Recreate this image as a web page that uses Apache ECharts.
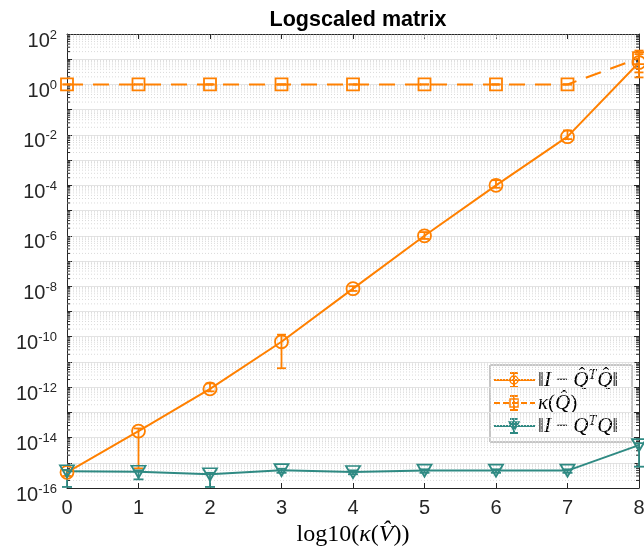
<!DOCTYPE html>
<html>
<head>
<meta charset="utf-8">
<script src="https://cdn.jsdelivr.net/npm/echarts@6/dist/echarts.min.js"></script>
<style>
  html, body { margin: 0; padding: 0; background: #fff; }
  #chart { width: 644px; height: 549px; }
</style>
</head>
<body>
<div id="chart"></div>
<script>
// x positions: log10 of the condition number of V-hat
const xValues = [0, 1, 2, 3, 4, 5, 6, 7, 8];

// ||I - Qhat^T Qhat||: median with lower / upper bounds
const orthHat    = [4.2e-16, 1.8e-14, 8.5e-13, 6.3e-11, 8.0e-9, 1.0e-6, 1.0e-4, 8.5e-3, 7.4];
const orthHatLo  = [3.0e-16, 6.0e-16, 6.8e-13, 5.6e-12, 6.5e-9, 7.5e-7, 8.0e-5, 6.8e-3, 1.9];
const orthHatHi  = [5.0e-16, 2.3e-14, 1.4e-12, 1.2e-10, 1.0e-8, 1.4e-6, 1.6e-4, 1.5e-2, 16];

// kappa(Qhat)
const kappaHat   = [1, 1, 1, 1, 1, 1, 1, 1, 11];
const kappaHatLo = [1, 1, 1, 1, 1, 1, 1, 1, 3];
const kappaHatHi = [1, 1, 1, 1, 1, 1, 1, 1, 22];

// ||I - Q^T Q||
const orthQ      = [4.6e-16, 4.4e-16, 3.5e-16, 5.1e-16, 4.3e-16, 4.9e-16, 4.9e-16, 4.9e-16, 5.0e-15];
const orthQLo    = [1.1e-16, 2.2e-16, 1.1e-16, 4.0e-16, 3.5e-16, 4.0e-16, 4.0e-16, 4.0e-16, 7.0e-16];
const orthQHi    = [5.2e-16, 5.0e-16, 4.0e-16, 5.8e-16, 5.0e-16, 5.5e-16, 5.5e-16, 5.5e-16, 6.0e-15];

// y-axis range in decades
const yMinExp = -16;
const yMaxExp = 2;

const ORANGE = '#ff8000';
const TEAL = '#2f8a83';
const AXIS = '#262626';

const pairs = (ys) => xValues.map((x, i) => [x, ys[i]]);
const bars = (lo, hi) => xValues.map((x, i) => [x, lo[i], hi[i]]);

// minor log grid values 2..9 x 10^k
const minorValues = [];
for (let e = yMinExp; e < yMaxExp; e++) {
  for (let m = 2; m <= 9; m++) minorValues.push([0, m * Math.pow(10, e)]);
}

function minorGrid(params, api) {
  const v = api.value(1);
  const a = api.coord([0, v]);
  const b = api.coord([8, v]);
  return {
    type: 'group',
    children: [
      { type: 'line', shape: { x1: a[0], y1: a[1], x2: b[0], y2: b[1] },
        style: { stroke: '#dadada', lineWidth: 1, lineDash: [1, 2] } },
      { type: 'line', shape: { x1: a[0], y1: a[1], x2: a[0] + 3, y2: a[1] },
        style: { stroke: AXIS, lineWidth: 1, lineDash: null } },
      { type: 'line', shape: { x1: b[0] - 3, y1: b[1], x2: b[0], y2: b[1] },
        style: { stroke: AXIS, lineWidth: 1, lineDash: null } }
    ]
  };
}

function errorBar(color, capHalf) {
  return function (params, api) {
    const x = api.value(0);
    const lo = api.coord([x, api.value(1)]);
    const hi = api.coord([x, api.value(2)]);
    const st = { stroke: color, lineWidth: 1.8, lineDash: null };
    return {
      type: 'group',
      children: [
        { type: 'line', shape: { x1: lo[0], y1: lo[1], x2: hi[0], y2: hi[1] }, style: st },
        { type: 'line', shape: { x1: lo[0] - capHalf, y1: lo[1], x2: lo[0] + capHalf, y2: lo[1] }, style: st },
        { type: 'line', shape: { x1: hi[0] - capHalf, y1: hi[1], x2: hi[0] + capHalf, y2: hi[1] }, style: st }
      ]
    };
  };
}

const chart = echarts.init(document.getElementById('chart'), null, { renderer: 'canvas' });

const yLabel = (v) => {
  const e = Math.round(Math.log10(v));
  if (e % 2 !== 0) return '';
  return '{b|10}{s|' + e + '}';
};

// legend drawn as graphic elements
const LEG = { x: 490, y: 365, w: 142, h: 77 };
const legRows = [
  { y: 380, color: ORANGE, dash: null, marker: 'circle',
    text: '{r|‖}{i|I}{r| − }{i|Q̂}{sup|T}{i|Q̂}{r|‖}' },
  { y: 403, color: ORANGE, dash: [6, 3], marker: 'square',
    text: '{i|κ}{r|(}{i|Q̂}{r|)}' },
  { y: 426, color: TEAL, dash: null, marker: 'tri',
    text: '{r|‖}{i|I}{r| − }{i|Q}{sup|T}{i|Q}{r|‖}' }
];
const legendChildren = [
  { type: 'rect', shape: { x: LEG.x, y: LEG.y, width: LEG.w, height: LEG.h },
    style: { fill: '#fff', stroke: '#8c8c8c', lineWidth: 1 } }
];
legRows.forEach((r) => {
  const cx = 514;
  const st = { stroke: r.color, lineWidth: 2, fill: 'none', lineDash: null };
  legendChildren.push({ type: 'line', shape: { x1: 494, y1: r.y, x2: 535, y2: r.y },
    style: { stroke: r.color, lineWidth: 2, lineDash: r.dash } });
  legendChildren.push({ type: 'line', shape: { x1: cx, y1: r.y - 7, x2: cx, y2: r.y + 7 }, style: st });
  legendChildren.push({ type: 'line', shape: { x1: cx - 4, y1: r.y - 7, x2: cx + 4, y2: r.y - 7 }, style: st });
  legendChildren.push({ type: 'line', shape: { x1: cx - 4, y1: r.y + 7, x2: cx + 4, y2: r.y + 7 }, style: st });
  if (r.marker === 'circle') {
    legendChildren.push({ type: 'circle', shape: { cx: cx, cy: r.y, r: 4 },
      style: { stroke: r.color, lineWidth: 1.5, fill: 'none', lineDash: null } });
  } else if (r.marker === 'square') {
    legendChildren.push({ type: 'rect', shape: { x: cx - 4, y: r.y - 4, width: 8, height: 8 },
      style: { stroke: r.color, lineWidth: 1.5, fill: 'none', lineDash: null } });
  } else {
    legendChildren.push({ type: 'polygon', shape: { points: [[cx - 5, r.y - 4], [cx + 5, r.y - 4], [cx, r.y + 5]] },
      style: { stroke: r.color, lineWidth: 1.5, fill: r.color, lineDash: null } });
  }
  legendChildren.push({ type: 'text', x: 538, y: r.y,
    style: {
      text: r.text, verticalAlign: 'middle', align: 'left',
      rich: {
        r: { fontFamily: 'Liberation Serif', fontSize: 21, fill: '#000' },
        i: { fontFamily: 'Liberation Serif', fontStyle: 'italic', fontSize: 21, fill: '#000' },
        sup: { fontFamily: 'Liberation Serif', fontStyle: 'italic', fontSize: 14, fill: '#000',
               verticalAlign: 'bottom', padding: [0, 1, 10, 0] }
      }
    } });
});

const option = {
  backgroundColor: '#fff',
  animation: false,
  title: {
    text: 'Logscaled matrix',
    left: 353, top: 4, textAlign: 'center',
    textStyle: { fontFamily: 'Liberation Sans', fontWeight: 'bold', fontSize: 21.5, color: '#000' }
  },
  grid: { left: 67, right: 5, top: 34, bottom: 61, containLabel: false, outerBoundsMode: 'none' },
  xAxis: [
    {
      type: 'value', min: 0, max: 8, interval: 1, position: 'bottom',
      name: '{r|log10(}{i|κ}{r|(}{i|V̂}{r|))}',
      nameLocation: 'middle', nameGap: 31,
      nameTextStyle: {
        rich: {
          r: { fontFamily: 'Liberation Serif', fontSize: 24, color: '#000' },
          i: { fontFamily: 'Liberation Serif', fontStyle: 'italic', fontSize: 24, color: '#000' }
        }
      },
      axisLine: { show: true, onZero: false, lineStyle: { color: AXIS, width: 1 } },
      axisTick: { show: true, inside: true, length: 5, lineStyle: { color: AXIS } },
      axisLabel: { margin: 10, fontFamily: 'Liberation Sans', fontSize: 20, color: AXIS },
      splitLine: { show: false }
    },
    {
      type: 'value', min: 0, max: 8, interval: 1, position: 'top',
      axisLine: { show: true, onZero: false, lineStyle: { color: AXIS, width: 1 } },
      axisTick: { show: true, inside: true, length: 5, lineStyle: { color: AXIS } },
      axisLabel: { show: false },
      splitLine: { show: false }
    }
  ],
  yAxis: [
    {
      type: 'log', logBase: 10,
      min: Math.pow(10, yMinExp), max: Math.pow(10, yMaxExp), interval: 1,
      position: 'left',
      axisLine: { show: true, onZero: false, lineStyle: { color: AXIS, width: 1 } },
      axisTick: { show: true, inside: true, length: 5, lineStyle: { color: AXIS } },
      axisLabel: {
        margin: 10, formatter: yLabel, color: AXIS, padding: [14, 0, 0, 0],
        rich: {
          b: { fontFamily: 'Liberation Sans', fontSize: 20, color: AXIS },
          s: { fontFamily: 'Liberation Sans', fontSize: 13, color: AXIS,
               verticalAlign: 'bottom', padding: [0, 0, 12, 0] }
        }
      },
      splitLine: { show: true, lineStyle: { color: '#e3e3e3', width: 1 } }
    },
    {
      type: 'log', logBase: 10,
      min: Math.pow(10, yMinExp), max: Math.pow(10, yMaxExp), interval: 1,
      position: 'right',
      axisLine: { show: true, onZero: false, lineStyle: { color: AXIS, width: 1 } },
      axisTick: { show: true, inside: true, length: 5, lineStyle: { color: AXIS } },
      axisLabel: { show: false },
      splitLine: { show: false }
    }
  ],
  graphic: [{ type: 'group', z: 100, children: legendChildren }],
  series: [
    {
      name: 'minor grid', type: 'custom', z: 1, silent: true,
      renderItem: minorGrid, data: minorValues, clip: false
    },
    // ||I - Qhat^T Qhat||
    {
      type: 'custom', z: 3, renderItem: errorBar(ORANGE, 4.5),
      data: bars(orthHatLo, orthHatHi), clip: false
    },
    {
      type: 'line', z: 4, data: pairs(orthHat), clip: false,
      symbol: 'circle', symbolSize: 13,
      lineStyle: { color: ORANGE, width: 2 },
      itemStyle: { color: 'rgba(0,0,0,0)', borderColor: ORANGE, borderWidth: 1.8 }
    },
    // kappa(Qhat)
    {
      type: 'custom', z: 3, renderItem: errorBar(ORANGE, 4.5),
      data: bars(kappaHatLo, kappaHatHi), clip: false
    },
    {
      type: 'line', z: 4, data: pairs(kappaHat), clip: false,
      symbol: 'rect', symbolSize: 12,
      lineStyle: { color: ORANGE, width: 2, type: [16, 10] },
      itemStyle: { color: 'rgba(0,0,0,0)', borderColor: ORANGE, borderWidth: 1.8 }
    },
    // ||I - Q^T Q||
    {
      type: 'custom', z: 3, renderItem: errorBar(TEAL, 5),
      data: bars(orthQLo, orthQHi), clip: false
    },
    {
      type: 'line', z: 4, data: pairs(orthQ), clip: false,
      symbol: 'path://M0,0 L12,0 L6,11 Z', symbolSize: [14, 12],
      lineStyle: { color: TEAL, width: 2 },
      itemStyle: { color: 'rgba(0,0,0,0)', borderColor: TEAL, borderWidth: 1.8 }
    }
  ]
};

chart.setOption(option);
</script>
</body>
</html>
